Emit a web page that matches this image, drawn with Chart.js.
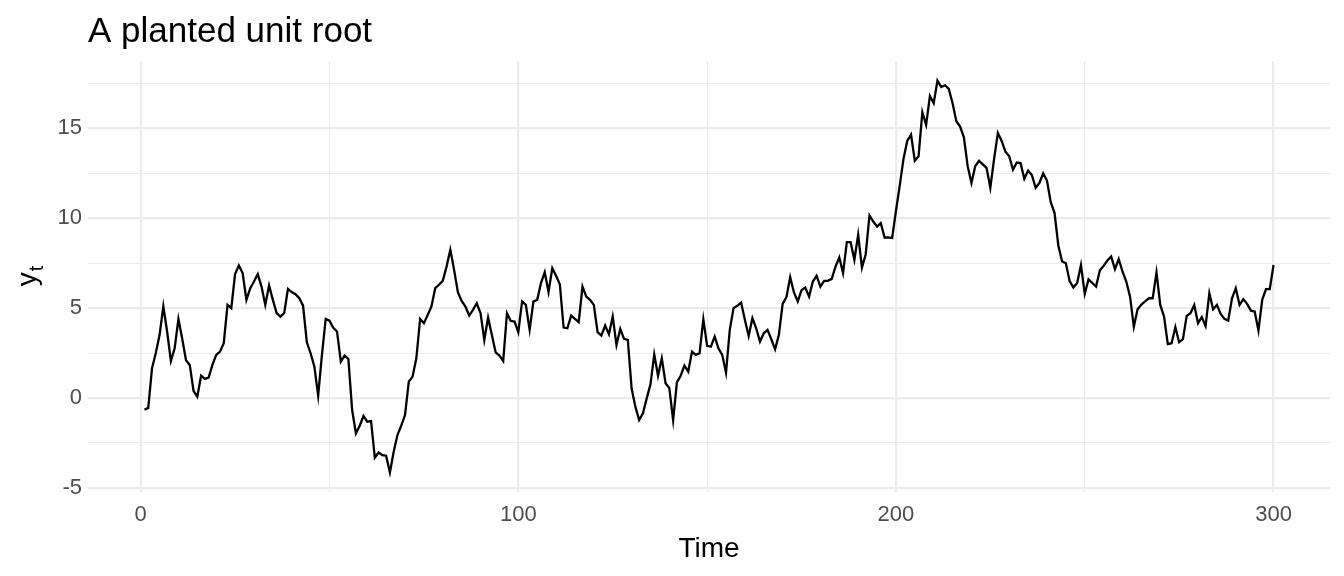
<!DOCTYPE html>
<html>
<head>
<meta charset="utf-8">
<script src="https://cdn.jsdelivr.net/npm/chart.js@4.4.1/dist/chart.umd.min.js"></script>
<style>
  html, body { margin: 0; padding: 0; background: #ffffff; }
  #wrap { width: 1344px; height: 576px; }
</style>
</head>
<body>
<div id="wrap"><canvas id="c" width="1344" height="576"></canvas></div>
<script>
const chartTitle = "A planted unit root";
const xAxisTitle = "Time";
const yAxisTitleMain = "y";
const yAxisTitleSub = "t";
const startTime = 1;
const xTicks = [0, 50, 100, 150, 200, 250, 300];
const xTickLabels = ["0", "", "100", "", "200", "", "300"];
const yTicks = [-5, -2.5, 0, 2.5, 5, 7.5, 10, 12.5, 15, 17.5];
const yTickLabels = ["-5", "", "0", "", "5", "", "10", "", "15", ""];

const values1 = [
  -0.65, -0.55, 1.65, 2.5, 3.5, 5.1, 3.7, 2.06, 2.77, 4.4,
  3.3, 2.1, 1.84, 0.39, 0.07, 1.24, 1.06, 1.13, 1.84, 2.4,
  2.58, 3.05, 5.18, 5.0, 6.9, 7.37, 6.95, 5.46, 6.1, 6.48,
  6.89, 6.2, 5.18, 6.26, 5.46, 4.72, 4.53, 4.72, 6.07, 5.89,
  5.78, 5.55, 5.14, 3.1, 2.49, 1.74, 0.13, 2.4, 4.4, 4.3,
  3.9, 3.7, 2.02, 2.36, 2.17, -0.67, -1.97, -1.54, -1.0, -1.32,
  -1.28, -3.32, -3.03, -3.18, -3.21, -4.14, -2.99, -2.06, -1.54, -0.95,
  0.91, 1.19, 2.21, 4.4, 4.16, 4.62, 5.09, 6.11, 6.3, 6.52,
  7.31, 8.25, 7.13, 5.89, 5.4, 5.09, 4.59, 4.9, 5.27, 4.72,
  3.23, 4.47, 3.51, 2.54, 2.36, 2.06, 4.72, 4.29, 4.25, 3.66
];
const values2 = [
  5.37, 5.18, 3.79, 5.37, 5.46, 6.39, 7.0, 5.89, 7.22, 6.8,
  6.33, 3.92, 3.88, 4.59, 4.4, 4.22, 6.2, 5.64, 5.46, 5.18,
  3.66, 3.47, 4.03, 3.55, 4.53, 2.95, 3.84, 3.29, 3.23, 0.54,
  -0.48, -1.23, -0.85, -0.02, 0.76, 2.43, 1.24, 2.21, 0.82, 0.54,
  -1.23, 0.87, 1.24, 1.8, 1.47, 2.58, 2.4, 2.49, 4.38, 2.9,
  2.86, 3.42, 2.77, 2.4, 1.41, 3.79, 5.0, 5.13, 5.31, 4.35,
  3.45, 4.44, 3.88, 3.14, 3.6, 3.79, 3.27, 2.71, 3.51, 5.24,
  5.61, 6.72, 5.87, 5.37, 6.0, 6.15, 5.64, 6.48, 6.8, 6.2,
  6.52, 6.52, 6.63, 7.31, 7.82, 6.95, 8.67, 8.67, 7.69, 9.08,
  7.26, 8.0, 10.16, 9.82, 9.54, 9.73, 8.93, 8.93, 8.9, 10.4
];
const values3 = [
  11.8, 13.3, 14.3, 14.65, 13.2, 13.45, 15.9, 15.2, 16.8, 16.4,
  17.66, 17.3, 17.4, 17.2, 16.4, 15.4, 15.1, 14.5, 12.9, 11.96,
  12.9, 13.2, 13.0, 12.8, 11.7, 13.3, 14.75, 14.3, 13.7, 13.45,
  12.7, 13.1, 13.07, 12.2, 12.65, 12.4, 11.7, 11.96, 12.5, 12.1,
  10.9, 10.3, 8.5, 7.6, 7.5, 6.5, 6.15, 6.4, 7.4, 5.8,
  6.6, 6.4, 6.2, 7.1, 7.35, 7.65, 7.87, 7.17, 7.73, 7.04,
  6.48, 5.64, 3.97, 4.94, 5.2, 5.37, 5.55, 5.55, 6.98, 5.18,
  4.53, 3.0, 3.05, 3.94, 3.1, 3.27, 4.57, 4.72, 5.18, 4.16,
  4.5, 4.0, 5.83, 4.94, 5.18, 4.68, 4.4, 4.31, 5.55, 6.11,
  5.18, 5.5, 5.24, 4.86, 4.81, 3.75, 5.46, 6.06, 6.06, 7.4
];
const seriesValues = values1.concat(values2, values3);
const timeValues = seriesValues.map((v, i) => startTime + i);

const FONT = "'Liberation Sans', Arial, Helvetica, sans-serif";
const PANEL_LEFT = 88, PANEL_RIGHT = 1330, PANEL_TOP = 61, PANEL_BOTTOM = 492;

const textPlugin = {
  id: 'textPlugin',
  afterDraw(chart) {
    const ctx = chart.ctx;
    const area = chart.chartArea;
    ctx.save();
    // main title
    ctx.fillStyle = '#000000';
    ctx.font = '35px ' + FONT;
    ctx.textAlign = 'left';
    ctx.textBaseline = 'alphabetic';
    ctx.fillText(chartTitle, area.left, 42);
    // x axis title
    ctx.font = '28px ' + FONT;
    ctx.textAlign = 'center';
    ctx.fillText(xAxisTitle, (area.left + area.right) / 2, 557);
    // y axis title with subscript
    ctx.translate(30, (area.top + area.bottom) / 2);
    ctx.rotate(-Math.PI / 2);
    ctx.textAlign = 'left';
    ctx.font = '28px ' + FONT;
    const wMain = ctx.measureText(yAxisTitleMain).width;
    ctx.font = '20px ' + FONT;
    const wSub = ctx.measureText(yAxisTitleSub).width;
    const x0 = -(wMain + wSub) / 2;
    ctx.font = '28px ' + FONT;
    ctx.fillText(yAxisTitleMain, x0, 6);
    ctx.font = '20px ' + FONT;
    ctx.fillText(yAxisTitleSub, x0 + wMain + 1, 13);
    ctx.restore();
  }
};

new Chart(document.getElementById('c'), {
  type: 'line',
  data: {
    datasets: [{
      data: timeValues.map((t, i) => ({ x: t, y: seriesValues[i] })),
      borderColor: '#000000',
      borderWidth: 2.3,
      pointRadius: 0,
      tension: 0,
      fill: false
    }]
  },
  options: {
    responsive: false,
    devicePixelRatio: 1,
    animation: false,
    layout: { padding: { top: PANEL_TOP, right: 1344 - PANEL_RIGHT, bottom: 0, left: 0 } },
    plugins: { legend: { display: false }, tooltip: { enabled: false }, title: { display: false } },
    scales: {
      x: {
        type: 'linear',
        min: -13.95,
        max: 314.95,
        afterBuildTicks(scale) { scale.ticks = xTicks.map(v => ({ value: v })); },
        afterFit(scale) { scale.height = 576 - PANEL_BOTTOM; },
        border: { display: false },
        grid: {
          color: '#EBEBEB',
          lineWidth: (c) => (c.tick && xTickLabels[xTicks.indexOf(c.tick.value)] !== '') ? 2.2 : 1.1,
          drawTicks: false
        },
        ticks: {
          autoSkip: false,
          maxRotation: 0,
          padding: 10,
          color: '#4D4D4D',
          font: { size: 22, family: FONT },
          callback: (v) => { const i = xTicks.indexOf(v); return i >= 0 ? xTickLabels[i] : ''; }
        }
      },
      y: {
        type: 'linear',
        min: -5.23,
        max: 18.75,
        afterBuildTicks(scale) { scale.ticks = yTicks.map(v => ({ value: v })); },
        afterFit(scale) { scale.width = PANEL_LEFT; },
        border: { display: false },
        grid: {
          color: '#EBEBEB',
          lineWidth: (c) => (c.tick && yTickLabels[yTicks.indexOf(c.tick.value)] !== '') ? 2.2 : 1.1,
          drawTicks: false
        },
        ticks: {
          autoSkip: false,
          padding: 6,
          color: '#4D4D4D',
          font: { size: 22, family: FONT },
          callback: (v) => { const i = yTicks.indexOf(v); return i >= 0 ? yTickLabels[i] : ''; }
        }
      }
    }
  },
  plugins: [textPlugin]
});
</script>
</body>
</html>
